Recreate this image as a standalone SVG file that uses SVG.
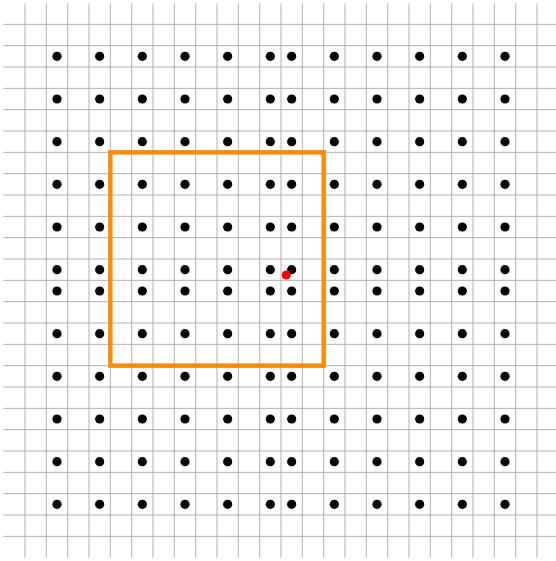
<svg xmlns="http://www.w3.org/2000/svg" xmlns:xlink="http://www.w3.org/1999/xlink" width="556" height="561" viewBox="0 0 556 561">
<style>
.grid{stroke:#b0b0b0;stroke-width:1;fill:none}
.dot{fill:#000}
.win{fill:none;stroke:#ff8c00;stroke-width:4.5}
.pt{fill:#ff0000}
</style>
<defs>
<g id="row">
<circle class="dot" cx="57" cy="0" r="4.6"/><circle class="dot" cx="99.67" cy="0" r="4.6"/><circle class="dot" cx="142.33" cy="0" r="4.6"/><circle class="dot" cx="185" cy="0" r="4.6"/><circle class="dot" cx="227.67" cy="0" r="4.6"/><circle class="dot" cx="270.33" cy="0" r="4.6"/><circle class="dot" cx="291.67" cy="0" r="4.6"/><circle class="dot" cx="334.33" cy="0" r="4.6"/><circle class="dot" cx="377" cy="0" r="4.6"/><circle class="dot" cx="419.67" cy="0" r="4.6"/><circle class="dot" cx="462.33" cy="0" r="4.6"/><circle class="dot" cx="505" cy="0" r="4.6"/>
</g>
</defs>
<rect width="556" height="561" fill="#fff"/>
<g id="grid">
<path class="grid" d="M3.3 24.33H556M3.3 45.67H556M3.3 67H556M3.3 88.33H556M3.3 109.67H556M3.3 131H556M3.3 152.33H556M3.3 173.67H556M3.3 195H556M3.3 216.33H556M3.3 237.67H556M3.3 259H556M3.3 280.33H556M3.3 301.67H556M3.3 323H556M3.3 344.33H556M3.3 365.67H556M3.3 387H556M3.3 408.33H556M3.3 429.67H556M3.3 451H556M3.3 472.33H556M3.3 493.67H556M3.3 515H556M3.3 536.33H556"/>
<path class="grid" d="M25 3.3V557.7M46.33 3.3V557.7M67.67 3.3V557.7M89 3.3V557.7M110.33 3.3V557.7M131.67 3.3V557.7M153 3.3V557.7M174.33 3.3V557.7M195.67 3.3V557.7M217 3.3V557.7M238.33 3.3V557.7M259.67 3.3V557.7M281 3.3V557.7M302.33 3.3V557.7M323.67 3.3V557.7M345 3.3V557.7M366.33 3.3V557.7M387.67 3.3V557.7M409 3.3V557.7M430.33 3.3V557.7M451.67 3.3V557.7M473 3.3V557.7M494.33 3.3V557.7M515.67 3.3V557.7M537 3.3V557.7"/>
</g>
<g id="dots">
<use xlink:href="#row" href="#row" y="56.33"/>
<use xlink:href="#row" href="#row" y="99"/>
<use xlink:href="#row" href="#row" y="141.67"/>
<use xlink:href="#row" href="#row" y="184.33"/>
<use xlink:href="#row" href="#row" y="227"/>
<use xlink:href="#row" href="#row" y="269.67"/>
<use xlink:href="#row" href="#row" y="291"/>
<use xlink:href="#row" href="#row" y="333.67"/>
<use xlink:href="#row" href="#row" y="376.33"/>
<use xlink:href="#row" href="#row" y="419"/>
<use xlink:href="#row" href="#row" y="461.67"/>
<use xlink:href="#row" href="#row" y="504.33"/>
</g>
<g id="window">
<rect class="win" x="110.33" y="152.33" width="213.33" height="213.33"/>
</g>
<g id="point">
<circle class="pt" cx="286.3" cy="275" r="4.6"/>
</g>
</svg>
